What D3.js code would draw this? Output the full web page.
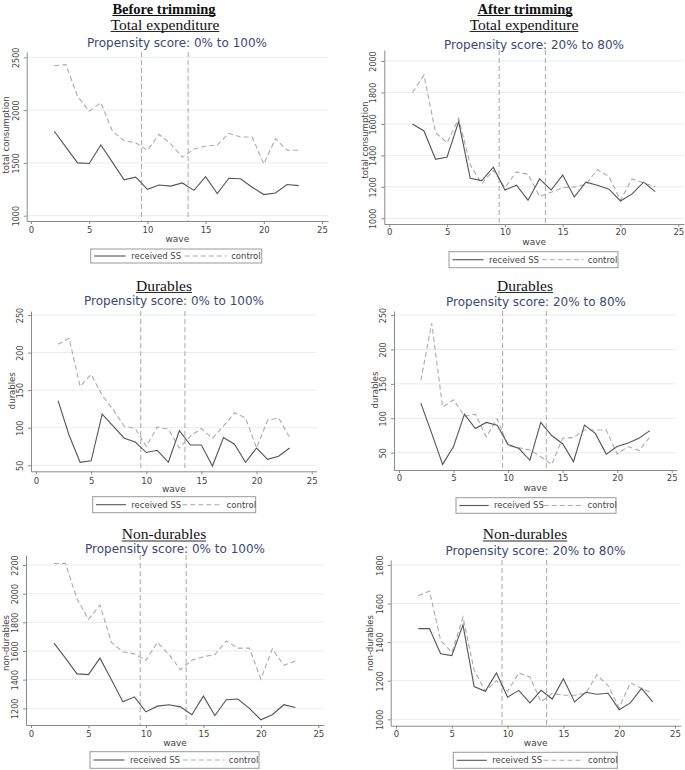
<!DOCTYPE html>
<html>
<head>
<meta charset="utf-8">
<script src="https://cdn.jsdelivr.net/npm/d3@7"></script>
<style>
  html, body { margin: 0; padding: 0; background: #fff; }
  svg { display: block; }
</style>
</head>
<body>
<svg id="chart" width="685" height="770"></svg>
<script>
// ---------------- DATA ----------------
const waves = [2,3,4,5,6,7,8,9,10,11,12,13,14,15,16,17,18,19,20,21,22,23];

const totalBeforeSS      = [1800,1650,1500,1495,1670,1505,1340,1365,1250,1290,1280,1310,1240,1370,1210,1355,1350,1270,1200,1215,1295,1285];
const totalBeforeControl = [2420,2430,2130,1990,2070,1800,1710,1690,1620,1770,1680,1555,1630,1660,1670,1780,1745,1745,1490,1730,1620,1620];

const totalAfterSS       = [1600,1555,1375,1390,1615,1255,1240,1325,1180,1210,1115,1250,1180,1275,1135,1230,1210,1185,1110,1155,1230,1170];
const totalAfterControl  = [1800,1910,1545,1480,1635,1340,1220,1305,1195,1295,1280,1140,1165,1195,1200,1215,1310,1265,1115,1250,1225,1200];

const durBeforeSS        = [136,90,54,56,118,102,86,81,67,70,54,96,77,77,49,87,78,54,73,58,62,73];
const durBeforeControl   = [211,219,155,171,143,124,102,99,75,101,98,73,89,99,86,102,120,113,73,110,113,87];

const durAfterSS         = [122,78,33,59,106,85,94,90,62,56,39,94,75,63,37,90,78,48,59,64,71,82];
const durAfterControl    = [155,238,116,127,103,106,73,99,60,57,54,44,33,71,72,83,83,83,48,59,53,73];

const nondurBeforeSS      = [1655,1550,1440,1435,1550,1400,1245,1280,1175,1215,1225,1210,1155,1285,1150,1260,1265,1200,1120,1155,1225,1205];
const nondurBeforeControl = [2210,2210,1965,1820,1920,1660,1595,1580,1535,1660,1575,1470,1535,1560,1575,1670,1620,1620,1405,1615,1500,1530];

const nondurAfterSS       = [1470,1470,1340,1330,1490,1170,1145,1240,1115,1150,1085,1150,1105,1210,1090,1140,1130,1135,1050,1085,1160,1090];
const nondurAfterControl  = [1640,1665,1410,1345,1530,1255,1145,1200,1145,1240,1220,1090,1135,1125,1125,1135,1230,1175,1060,1190,1160,1135];

const xTicks = [0,5,10,15,20,25];
const yTicksTotalBefore  = [1000,1500,2000,2500];
const yTicksTotalAfter   = [1000,1200,1400,1600,1800,2000];
const yTicksDurables     = [50,100,150,200,250];
const yTicksNondurBefore = [1200,1400,1600,1800,2000,2200];
const yTicksNondurAfter  = [1000,1200,1400,1600,1800];
const eventWaves = [9.5, 13.5];

const columnTitles = ["Before trimming", "After trimming"];
const headings = ["Total expenditure", "Durables", "Non-durables"];
const subtitles = ["Propensity score: 0% to 100%", "Propensity score: 20% to 80%"];
const yTitles = ["total consumption", "durables", "non-durables"];
const xTitle = "wave";
const seriesNames = ["received SS", "control"];

// ---------------- LAYOUT ----------------
const panels = [
  {ss: totalBeforeSS, ctl: totalBeforeControl, yTicks: yTicksTotalBefore, head: headings[0], sub: subtitles[0], yt: yTitles[0],
   axisX: 26.7, axisY: 221, x0: 31, x25: 322, right: 328, yLo: 1000, yLoPx: 215.7, yHi: 2500, yHiPx: 57.3, top: 52,
   headCx: 165, headY: 29.5, subCx: 177, subY: 46.7, ytX: 6, ytCy: 135, xtY: 233.3, waveY: 241.7, leg: [90.7, 249, 171, 14]},
  {ss: totalAfterSS, ctl: totalAfterControl, yTicks: yTicksTotalAfter, head: headings[0], sub: subtitles[1], yt: yTitles[0],
   axisX: 384.3, axisY: 224, x0: 389.3, x25: 678.3, right: 684, yLo: 1000, yLoPx: 218.3, yHi: 2000, yHiPx: 61, top: 50,
   headCx: 524, headY: 29.5, subCx: 534, subY: 49.3, ytX: 365, ytCy: 140, xtY: 235, waveY: 245, leg: [449, 251.7, 169, 16]},
  {ss: durBeforeSS, ctl: durBeforeControl, yTicks: yTicksDurables, head: headings[1], sub: subtitles[0], yt: yTitles[1],
   axisX: 31, axisY: 471.3, x0: 36, x25: 311.7, right: 316.7, yLo: 50, yLoPx: 465.3, yHi: 250, yHiPx: 315, top: 311,
   headCx: 164, headY: 290.5, subCx: 174, subY: 305, ytX: 11.7, ytCy: 390.7, xtY: 484, waveY: 492.3, leg: [92.7, 496.7, 163, 16]},
  {ss: durAfterSS, ctl: durAfterControl, yTicks: yTicksDurables, head: headings[1], sub: subtitles[1], yt: yTitles[1],
   axisX: 394, axisY: 470, x0: 399, x25: 671.7, right: 676.7, yLo: 50, yLoPx: 452.7, yHi: 250, yHiPx: 315, top: 311,
   headCx: 525, headY: 290.5, subCx: 536, subY: 306.3, ytX: 375, ytCy: 390, xtY: 480.7, waveY: 490.7, leg: [456, 497.7, 160, 15.6]},
  {ss: nondurBeforeSS, ctl: nondurBeforeControl, yTicks: yTicksNondurBefore, head: headings[2], sub: subtitles[0], yt: yTitles[2],
   axisX: 26, axisY: 725, x0: 31, x25: 318.3, right: 324, yLo: 1200, yLoPx: 708.3, yHi: 2200, yHiPx: 565, top: 555,
   headCx: 164, headY: 539, subCx: 175, subY: 553, ytX: 6, ytCy: 643, xtY: 736.7, waveY: 746, leg: [90, 751.7, 169, 16.6]},
  {ss: nondurAfterSS, ctl: nondurAfterControl, yTicks: yTicksNondurAfter, head: headings[2], sub: subtitles[1], yt: yTitles[2],
   axisX: 390.7, axisY: 725.7, x0: 396, x25: 675, right: 680.7, yLo: 1000, yLoPx: 719.3, yHi: 1800, yHiPx: 565, top: 560,
   headCx: 525, headY: 539, subCx: 535.5, subY: 555, ytX: 370, ytCy: 643, xtY: 736.7, waveY: 746, leg: [453.3, 752.3, 164, 16]}
];

const colTitlePos = [{cx: 164, y: 13.5}, {cx: 525, y: 13.5}];

const C = {
  ss: "#555555", ctl: "#ababab", vline: "#a8a8a8", axis: "#8a8a8a", grid: "#e3eef0",
  tick: "#444444", sub: "#3b4876", head: "#111111"
};
const SANS = "'DejaVu Sans', Verdana, sans-serif";
const SERIF = "'Liberation Serif', 'Times New Roman', serif";

const svg = d3.select("#chart");

function underlinedText(x, y, txt, size, bold) {
  const t = svg.append("text")
    .attr("x", x).attr("y", y)
    .attr("text-anchor", "middle")
    .attr("font-family", SERIF)
    .attr("font-size", size)
    .attr("font-weight", bold ? "bold" : "normal")
    .attr("fill", C.head)
    .text(txt);
  const w = t.node().getComputedTextLength();
  svg.append("line")
    .attr("x1", x - w / 2).attr("x2", x + w / 2)
    .attr("y1", y + 2).attr("y2", y + 2)
    .attr("stroke", C.head).attr("stroke-width", bold ? 1.2 : 0.9);
}

columnTitles.forEach((t, i) => underlinedText(colTitlePos[i].cx, colTitlePos[i].y, t, 14.5, true));

panels.forEach(p => {
  const g = svg.append("g");

  const yBase = d3.scaleLinear().domain([p.yLo, p.yHi]).range([p.yLoPx, p.yHiPx]);
  const y = d3.scaleLinear().domain([yBase.invert(p.axisY), yBase.invert(p.top)]).range([p.axisY, p.top]);
  const xBase = d3.scaleLinear().domain([0, 25]).range([p.x0, p.x25]);
  const x = d3.scaleLinear().domain([xBase.invert(p.axisX), xBase.invert(p.right)]).range([p.axisX, p.right]);

  underlinedText(p.headCx, p.headY, p.head, 15.5, false);
  g.append("text")
    .attr("x", p.subCx).attr("y", p.subY)
    .attr("text-anchor", "middle")
    .attr("font-family", SANS).attr("font-size", 12)
    .attr("fill", C.sub)
    .text(p.sub);

  g.append("g").selectAll("line").data(p.yTicks).join("line")
    .attr("x1", p.axisX).attr("x2", p.right)
    .attr("y1", d => y(d)).attr("y2", d => y(d))
    .attr("stroke", C.grid).attr("stroke-width", 1);

  g.append("g").selectAll("line").data(eventWaves).join("line")
    .attr("x1", d => x(d)).attr("x2", d => x(d))
    .attr("y1", p.top).attr("y2", p.axisY)
    .attr("stroke", C.vline).attr("stroke-width", 1)
    .attr("stroke-dasharray", "5,3");

  const ya = g.append("g")
    .attr("transform", `translate(${p.axisX},0)`)
    .call(d3.axisLeft(y).tickValues(p.yTicks).tickFormat(d3.format("d")).tickSize(3).tickSizeOuter(0));
  ya.select(".domain").attr("stroke", C.axis);
  ya.selectAll(".tick line").attr("stroke", C.axis);
  ya.selectAll(".tick text")
    .attr("x", null).attr("dy", null)
    .attr("transform", "translate(-11,0) rotate(-90)")
    .attr("y", 0).attr("dy", "0.36em")
    .attr("text-anchor", "middle")
    .attr("font-family", SANS).attr("font-size", 8)
    .attr("fill", C.tick);

  const xa = g.append("g")
    .attr("transform", `translate(0,${p.axisY})`)
    .call(d3.axisBottom(x).tickValues(xTicks).tickFormat(d3.format("d")).tickSize(3).tickSizeOuter(0));
  xa.select(".domain").attr("stroke", C.axis);
  xa.selectAll(".tick line").attr("stroke", C.axis);
  xa.selectAll(".tick text")
    .attr("y", p.xtY - p.axisY).attr("dy", 0)
    .attr("font-family", SANS).attr("font-size", 8.5)
    .attr("fill", C.tick);

  g.append("text")
    .attr("transform", `translate(${p.ytX},${p.ytCy}) rotate(-90)`)
    .attr("dy", "0.35em")
    .attr("text-anchor", "middle")
    .attr("font-family", SANS).attr("font-size", 8.5)
    .attr("fill", C.tick)
    .text(p.yt);
  g.append("text")
    .attr("x", (p.axisX + p.right) / 2).attr("y", p.waveY)
    .attr("text-anchor", "middle")
    .attr("font-family", SANS).attr("font-size", 9)
    .attr("fill", C.tick)
    .text(xTitle);

  const line = d3.line().x((d, i) => x(waves[i])).y(d => y(d));
  g.append("path").datum(p.ctl)
    .attr("d", line).attr("fill", "none")
    .attr("stroke", C.ctl).attr("stroke-width", 1.1)
    .attr("stroke-dasharray", "5,3");
  g.append("path").datum(p.ss)
    .attr("d", line).attr("fill", "none")
    .attr("stroke", C.ss).attr("stroke-width", 1.1);

  const [lx, ly, lw, lh] = p.leg;
  const k = lw / 171;
  const lg = g.append("g").attr("transform", `translate(${lx},${ly})`);
  lg.append("rect").attr("width", lw).attr("height", lh)
    .attr("fill", "#fff").attr("stroke", "#9a9a9a").attr("stroke-width", 1);
  const my = lh / 2;
  lg.append("line").attr("x1", 3.5 * k).attr("x2", 35 * k).attr("y1", my).attr("y2", my)
    .attr("stroke", C.ss).attr("stroke-width", 1.1);
  lg.append("text").attr("x", 40.5 * k).attr("y", my + 3)
    .attr("font-family", SANS).attr("font-size", 8.5).attr("fill", C.tick)
    .text(seriesNames[0]);
  lg.append("line").attr("x1", 94 * k).attr("x2", 136 * k).attr("y1", my).attr("y2", my)
    .attr("stroke", C.ctl).attr("stroke-width", 1.1).attr("stroke-dasharray", "5,3");
  lg.append("text").attr("x", 140.5 * k).attr("y", my + 3)
    .attr("font-family", SANS).attr("font-size", 8.5).attr("fill", C.tick)
    .text(seriesNames[1]);
});
</script>
</body>
</html>
